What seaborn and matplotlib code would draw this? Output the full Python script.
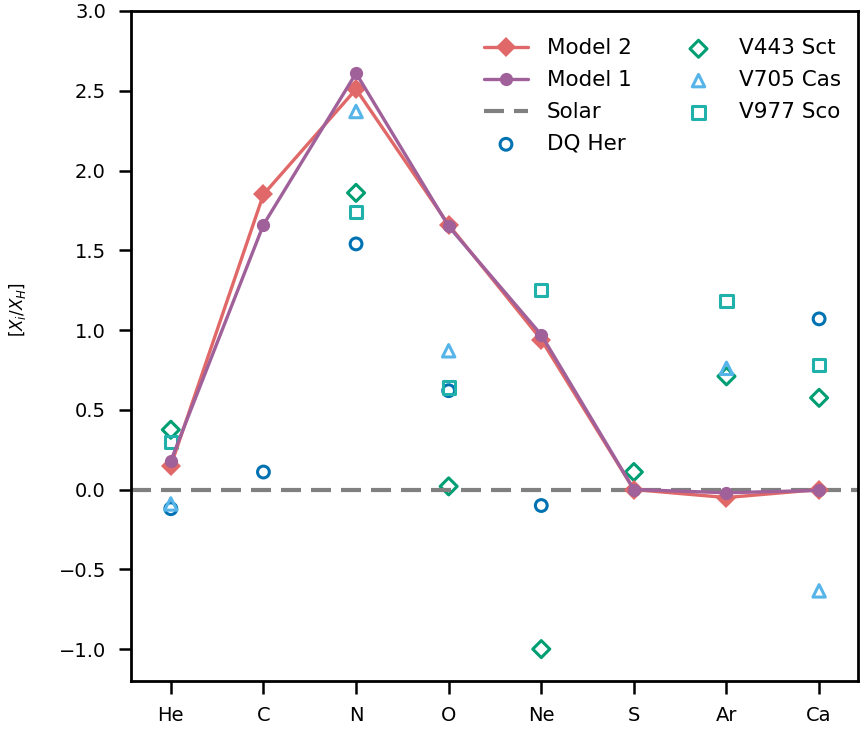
import numpy as np
import pandas as pd
import matplotlib
matplotlib.use("Agg")
import matplotlib.pyplot as plt
import seaborn as sns

elements = ["He", "C", "N", "O", "Ne", "S", "Ar", "Ca"]
model2 = [0.15, 1.85, 2.51, 1.66, 0.94, 0.00, -0.05, 0.00]
model1 = [0.18, 1.66, 2.61, 1.65, 0.97, 0.00, -0.02, -0.005]
dq_her = [-0.12, 0.11, 1.54, 0.62, -0.10, np.nan, np.nan, 1.07]
v443_sct = [0.375, np.nan, 1.86, 0.02, -1.00, 0.11, 0.71, 0.575]
v705_cas = [-0.09, np.nan, 2.37, 0.87, np.nan, np.nan, 0.76, -0.635]
v977_sco = [0.30, np.nan, 1.74, 0.64, 1.25, np.nan, 1.18, 0.78]
solar = 0.0

sns.set_theme(style="ticks")
plt.rcParams["font.family"] = ["DejaVu Sans"]
for k in ["text.color", "axes.labelcolor", "xtick.color", "ytick.color",
          "axes.edgecolor"]:
    plt.rcParams[k] = "black"

fig = plt.figure(figsize=(8.6, 7.32), dpi=100)
ax = fig.add_axes([131/860, 1-681/732, (858-131)/860, (681-11)/732])

x = np.arange(len(elements))
df = pd.DataFrame({"x": x, "Model 2": model2, "Model 1": model1,
                   "DQ Her": dq_her, "V443 Sct": v443_sct,
                   "V705 Cas": v705_cas, "V977 Sco": v977_sco})

c_m2 = "#e06868"
c_m1 = "#a0609a"
sns.lineplot(data=df, x="x", y="Model 2", ax=ax, color=c_m2, lw=2.4,
             marker="D", markersize=10, markeredgewidth=0, label="Model 2")
sns.lineplot(data=df, x="x", y="Model 1", ax=ax, color=c_m1, lw=2.4,
             marker="o", markersize=9.5, markeredgewidth=0, label="Model 1")
ax.axhline(solar, color="#808080", lw=3.0, ls=(0, (4.8, 2.4)), label="Solar", zorder=1.5)

obs = [("DQ Her", "o", "#0072b2", 72),
       ("V443 Sct", "D", "#009e73", 75),
       ("V705 Cas", "^", "#56b4e9", 80),
       ("V977 Sco", "s", "#20b2aa", 78)]
for name, m, col, s in obs:
    sub = df[["x", name]].dropna()
    sns.scatterplot(x=sub["x"], y=sub[name], ax=ax, marker=m, s=s,
                    facecolors="none", edgecolor=col, linewidth=2.2,
                    label=name)

ax.set_xlim(-0.43, 7.42)
ax.set_ylim(-1.2, 3.0)
ax.set_xticks(x)
ax.set_xticklabels(elements)
ax.set_yticks([-1.0, -0.5, 0.0, 0.5, 1.0, 1.5, 2.0, 2.5, 3.0])
ax.set_xlabel("")
ax.set_ylabel(r"$[X_i/X_H]$", fontsize=12)
ax.yaxis.set_label_coords(-0.141, 0.555)
ax.tick_params(axis="both", labelsize=14, length=9, width=1.8, pad=9,
               colors="black")
for sp in ax.spines.values():
    sp.set_linewidth(2.0)
    sp.set_color("black")

ax.legend(ncol=2, frameon=False, fontsize=15.5, loc="upper right",
          bbox_to_anchor=(1.004, 0.988), handlelength=2.0, handletextpad=0.9,
          columnspacing=2.1, labelspacing=0.55)

fig.savefig("out.png", dpi=100)
